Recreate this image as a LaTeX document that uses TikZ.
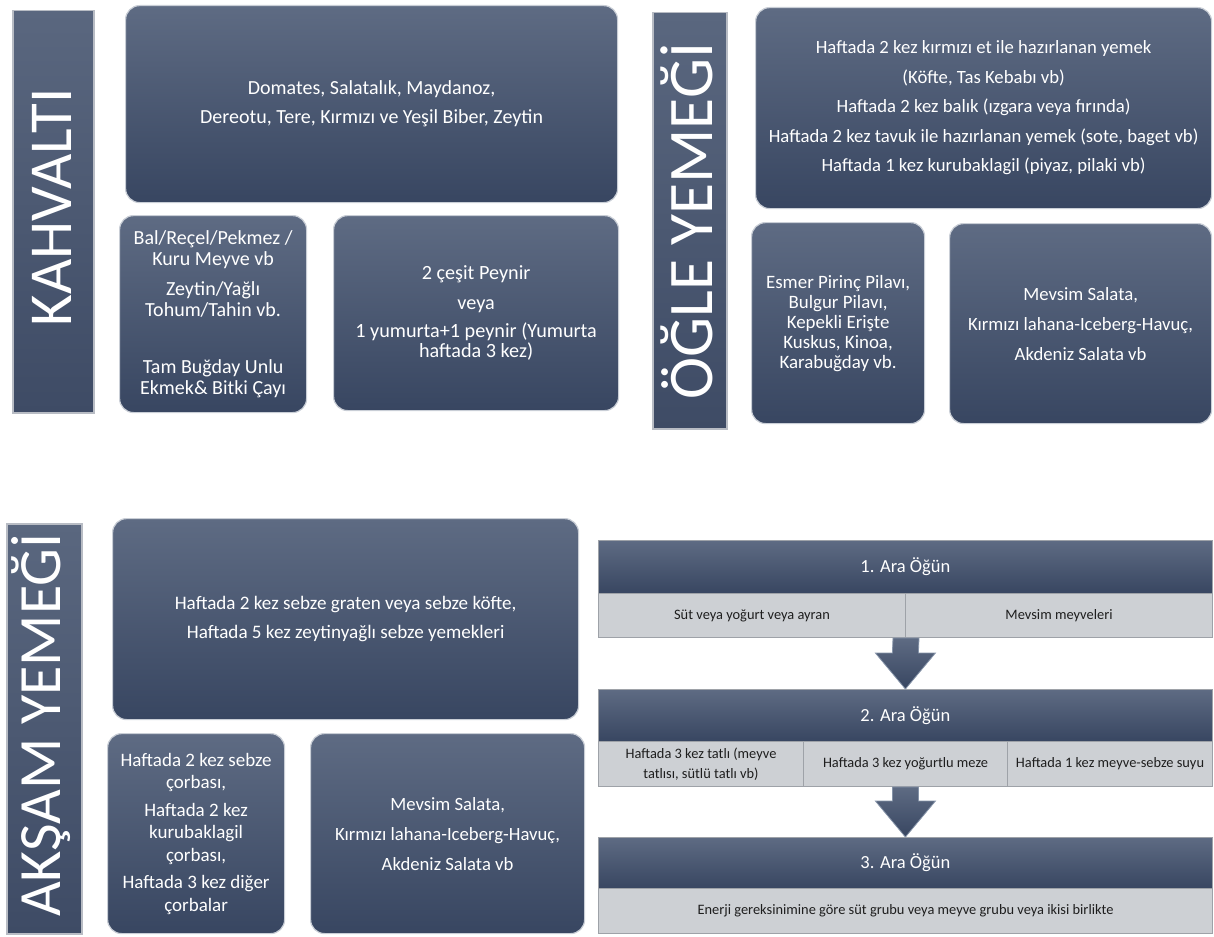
\documentclass[tikz,border=0pt]{standalone}
\usepackage{fontspec}
\usepackage{graphicx}
\setmainfont{Carlito}
\usetikzlibrary{calc}
\definecolor{boxtop}{HTML}{5E6B83}
\definecolor{boxbot}{HTML}{384661}
\definecolor{boxedge}{HTML}{C9CED6}
\definecolor{bartop}{HTML}{5A677F}
\definecolor{barbot}{HTML}{3E4B65}
\definecolor{baredge}{HTML}{B8BCC4}
\definecolor{cellfill}{HTML}{CDD0D4}
\definecolor{celledge}{HTML}{9EA2A8}
\definecolor{celltext}{HTML}{1E1E1E}
\definecolor{arredge}{HTML}{8593A8}
\begin{document}
\begin{tikzpicture}[x=1pt,y=-1pt,
  box/.style={anchor=north west, rounded corners=14pt, draw=boxedge, line width=1.2pt,
    top color=boxtop, bottom color=boxbot, text=white, align=center, inner sep=0pt,
    font=\fontsize{20}{29}\selectfont},
  bar/.style={anchor=north west, draw=baredge, line width=1.5pt,
    top color=bartop, bottom color=barbot, inner sep=0pt},
  title/.style={rotate=90, anchor=base, text=white, inner sep=0pt},
  head/.style={anchor=north west, draw=celledge, line width=0.8pt,
    top color=boxtop, bottom color=boxbot, text=white, inner sep=0pt,
    minimum width=614pt, font=\fontsize{18.5}{22}\selectfont},
  cell/.style={anchor=north west, draw=celledge, line width=1pt, fill=cellfill, text=celltext,
    inner sep=0pt, align=center, font=\fontsize{14.4}{20}\selectfont},
  blockarrow/.style={draw=arredge, line width=0.8pt, top color=boxtop, bottom color=boxbot}
]
\useasboundingbox (0,0) rectangle (1214,936);

% ---------- KAHVALTI ----------
\node[bar, minimum width=81pt, minimum height=402pt] (kbar) at (12,10) {};
\node[title, font=\fontsize{61}{61}\selectfont] (ktitle) at (71,207.5) {KAHVALTI};
\node[box, minimum width=492pt, minimum height=197pt] (k1) at (125,5)
  {Domates, Salatalık, Maydanoz,\\Dereotu, Tere, Kırmızı ve Yeşil Biber, Zeytin};
\node[box, minimum width=187pt, minimum height=197pt, font=\fontsize{20}{21}\selectfont] (k2) at (119,215)
  {Bal/Reçel/Pekmez /\\Kuru Meyve vb\\[9pt]Zeytin/Yağlı\\Tohum/Tahin vb.\\[36pt]Tam Buğday Unlu\\Ekmek\& Bitki Çayı};
\node[box, minimum width=285pt, minimum height=195pt, font=\fontsize{20.2}{20}\selectfont] (k3) at (333,215)
  {2 çeşit Peynir\\[10pt]veya\\[8pt]1 yumurta+1 peynir (Yumurta\\haftada 3 kez)};

% ---------- OGLE YEMEGI ----------
\node[bar, minimum width=74pt, minimum height=416pt] (obar) at (652,12) {};
\node[title, font=\fontsize{63.5}{64}\selectfont] (otitle) at (712,221) {ÖĞLE YEMEĞİ};
\node[box, minimum width=456pt, minimum height=201pt, font=\fontsize{18.7}{29.5}\selectfont] (o1) at (755,7)
  {Haftada 2 kez kırmızı et ile hazırlanan yemek\\(Köfte, Tas Kebabı vb)\\Haftada 2 kez balık (ızgara veya fırında)\\Haftada 2 kez tavuk ile hazırlanan yemek (sote, baget vb)\\Haftada 1 kez kurubaklagil (piyaz, pilaki vb)};
\node[box, minimum width=173pt, minimum height=201pt, font=\fontsize{18.9}{20}\selectfont] (o2) at (751,222)
  {Esmer Pirinç Pilavı,\\Bulgur Pilavı,\\Kepekli Erişte\\Kuskus, Kinoa,\\Karabuğday vb.};
\node[box, minimum width=262pt, minimum height=200pt, font=\fontsize{18.7}{30}\selectfont] (o3) at (949,223)
  {Mevsim Salata,\\Kırmızı lahana-Iceberg-Havuç,\\Akdeniz Salata vb};

% ---------- AKSAM YEMEGI ----------
\node[bar, minimum width=75pt, minimum height=410pt] (abar) at (6,523) {};
\node[title, font=\fontsize{60}{60}\selectfont] (atitle) at (60,725) {AKŞAM YEMEĞİ};
\node[box, minimum width=466pt, minimum height=201pt, font=\fontsize{19.1}{29}\selectfont] (a1) at (112,518)
  {Haftada 2 kez sebze graten veya sebze köfte,\\Haftada 5 kez zeytinyağlı sebze yemekleri};
\node[box, minimum width=177pt, minimum height=200pt, font=\fontsize{19}{22.5}\selectfont] (a2) at (107,733)
  {Haftada 2 kez sebze\\çorbası,\\[5pt]Haftada 2 kez\\kurubaklagil\\çorbası,\\[5pt]Haftada 3 kez diğer\\çorbalar};
\node[box, minimum width=274pt, minimum height=200pt, font=\fontsize{18.7}{30}\selectfont] (a3) at (310,733)
  {Mevsim Salata,\\Kırmızı lahana-Iceberg-Havuç,\\Akdeniz Salata vb};

% ---------- ARA OGUNLER ----------
\node[head, minimum height=53pt] (h1) at (598,540) {1. Ara Öğün};
\node[cell, minimum width=307pt, minimum height=44pt] (r1a) at (598,593) {Süt veya yoğurt veya ayran};
\node[cell, minimum width=307pt, minimum height=44pt] (r1b) at (905,593) {Mevsim meyveleri};

\node[head, minimum height=52pt] (h2) at (598,689) {2. Ara Öğün};
\node[cell, minimum width=205pt, minimum height=45pt] (r2a) at (598,741) {Haftada 3 kez tatlı (meyve\\tatlısı, sütlü tatlı vb)};
\node[cell, minimum width=204pt, minimum height=45pt] (r2b) at (803,741) {Haftada 3 kez yoğurtlu meze};
\node[cell, minimum width=205pt, minimum height=45pt] (r2c) at (1007,741) {Haftada 1 kez meyve-sebze suyu};

\node[head, minimum height=51pt] (h3) at (598,837) {3. Ara Öğün};
\node[cell, minimum width=614pt, minimum height=45pt] (r3) at (598,888) {Enerji gereksinimine göre süt grubu veya meyve grubu veya ikisi birlikte};

% block arrows
\coordinate (t1) at (r1a.south east);
\coordinate (p1) at (h2.north);
\coordinate (t2) at (r2b.south);
\coordinate (p2) at (h3.north);
\path[blockarrow] ($(t1)+(-13,0)$) -- ($(t1)+(13,0)$) -- ($(p1)+(13,-36)$) -- ($(p1)+(30,-36)$)
  -- (p1) -- ($(p1)+(-30,-36)$) -- ($(p1)+(-13,-36)$) -- cycle;
\path[blockarrow] ($(t2)+(-13,0)$) -- ($(t2)+(13,0)$) -- ($(p2)+(13,-36)$) -- ($(p2)+(30,-36)$)
  -- (p2) -- ($(p2)+(-30,-36)$) -- ($(p2)+(-13,-36)$) -- cycle;
\end{tikzpicture}
\end{document}
